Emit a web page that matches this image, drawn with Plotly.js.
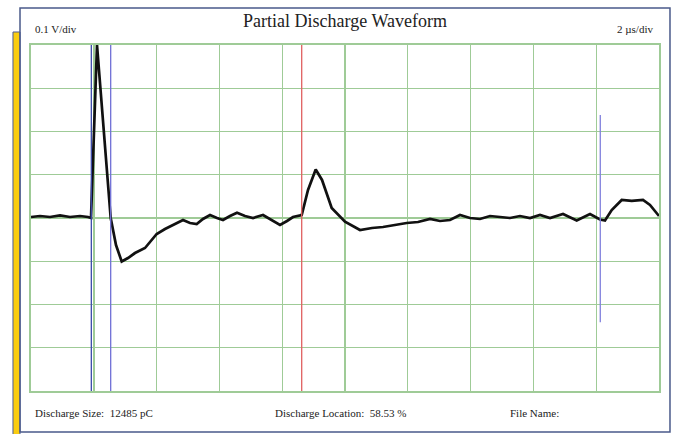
<!DOCTYPE html>
<html><head><meta charset="utf-8">
<script src="https://cdn.plot.ly/plotly-3.0.1.min.js"></script>
<style>html,body{margin:0;padding:0;background:#fff;}#chart{width:673px;height:434px;}</style>
</head><body><div id="chart"></div>
<script>
// time in microseconds (2 us/div), voltage in volts (0.1 V/div)
const timeUs = [0,0.287,0.605,0.924,1.242,1.561,1.815,1.911,2.102,2.538,2.707,2.889,3.089,3.312,3.631,4.003,4.268,4.586,4.841,5.064,5.277,5.478,5.701,5.924,6.115,6.338,6.561,6.815,7.070,7.389,7.675,7.930,8.153,8.344,8.621,8.822,9.067,9.268,9.576,10.0,10.478,10.860,11.210,11.592,11.965,12.325,12.707,13.025,13.344,13.662,13.981,14.299,14.618,14.936,15.255,15.573,15.892,16.210,16.529,16.943,17.379,17.803,18.121,18.280,18.494,18.812,19.131,19.490,19.713,20.0];
const voltV = [0.0023,0.0046,0.0023,0.0058,0.0023,0.0046,0.0023,0,0.40,0,-0.0625,-0.1007,-0.0926,-0.0810,-0.0694,-0.0370,-0.0255,-0.0139,-0.0046,-0.0116,-0.0139,-0.0023,0.0069,0,-0.0046,0.0046,0.0123,0.0046,0,0.0069,-0.0046,-0.0162,-0.0069,0.0023,0.0069,0.0648,0.1123,0.0880,0.0231,-0.0086,-0.0278,-0.0231,-0.0208,-0.0162,-0.0116,-0.0093,-0.0023,-0.0069,-0.0046,0.0069,0,-0.0023,0.0046,0.0023,0,0.0046,0,0.0069,0,0.0093,-0.0058,0.0093,-0.0035,-0.0058,0.0185,0.0417,0.0394,0.0417,0.0301,0.0046];
const cursorTimes = [1.921, 2.538, 8.621, 18.13];
const cursorColors = ['#3a4aa8', '#6f6fd6', '#e06060', '#8080dd'];
const cursorLow = [-0.4, -0.4, -0.4, -0.241];
const cursorHigh = [0.4, 0.4, 0.4, 0.238];
const titleText = 'Partial Discharge Waveform';
const leftLabel = '0.1 V/div';
const rightLabel = '2 µs/div';
const footerLabels = ['Discharge Size:  12485 pC', 'Discharge Location:  58.53 %', 'File Name:'];
const footerX = [0.003, 0.385, 0.759];

const grid = '#9fcb97';
const font = {family: 'Liberation Serif, Times New Roman, serif', color: '#222', size: 11};

const shapes = [
  {type:'rect', xref:'paper', yref:'paper', x0:-0.0287, x1:-0.0175, y0:-0.13, y1:1.0376,
   fillcolor:'#f9cc10', line:{color:'#4a5a9a', width:1}, layer:'below'},
  {type:'rect', xref:'paper', yref:'paper', x0:-0.0175, x1:1.0175, y0:-0.1185, y1:1.107,
   fillcolor:'rgba(0,0,0,0)', line:{color:'#4a5a8a', width:1.5}, layer:'above'}
];
cursorTimes.forEach((t,i)=>{
  shapes.push({type:'line', xref:'x', yref:'y', x0:t, x1:t, y0:cursorLow[i], y1:cursorHigh[i],
    line:{color:cursorColors[i], width:1.3}, layer:'above'});
});

const annotations = [
  {text:leftLabel, xref:'paper', yref:'paper', x:0.003, y:1.045, xanchor:'left', yanchor:'middle', showarrow:false, font:font},
  {text:rightLabel, xref:'paper', yref:'paper', x:0.994, y:1.045, xanchor:'right', yanchor:'middle', showarrow:false, font:font}
];
footerLabels.forEach((s,i)=>{
  annotations.push({text:s, xref:'paper', yref:'paper', x:footerX[i], y:-0.064, xanchor:'left', yanchor:'middle', showarrow:false, font:font});
});

const trace = {x: timeUs, y: voltV, type:'scatter', mode:'lines',
  line:{color:'#111', width:2.7}, hoverinfo:'skip', cliponaxis:true};

const layout = {
  width:673, height:434,
  margin:{l:31, r:14, t:45, b:43, pad:0},
  paper_bgcolor:'#fff', plot_bgcolor:'#fff',
  showlegend:false,
  title:{text:titleText, x:0.5, xref:'paper', y:0.953, yref:'container', xanchor:'center', yanchor:'middle',
    font:{family:'Liberation Serif, Times New Roman, serif', size:18, color:'#222'}},
  xaxis:{range:[0,20], dtick:2, tick0:0, showgrid:true, gridcolor:grid, gridwidth:1.4,
    showticklabels:false, ticks:'', zeroline:false, showline:true, linecolor:grid, linewidth:1.6, mirror:true, fixedrange:true},
  yaxis:{range:[-0.4,0.4], dtick:0.1, tick0:0, showgrid:true, gridcolor:grid, gridwidth:1.4,
    showticklabels:false, ticks:'', zeroline:false, showline:true, linecolor:grid, linewidth:1.6, mirror:true, fixedrange:true},
  shapes:shapes, annotations:annotations
};
Plotly.newPlot('chart', [trace], layout, {displayModeBar:false, staticPlot:true});
</script></body></html>
